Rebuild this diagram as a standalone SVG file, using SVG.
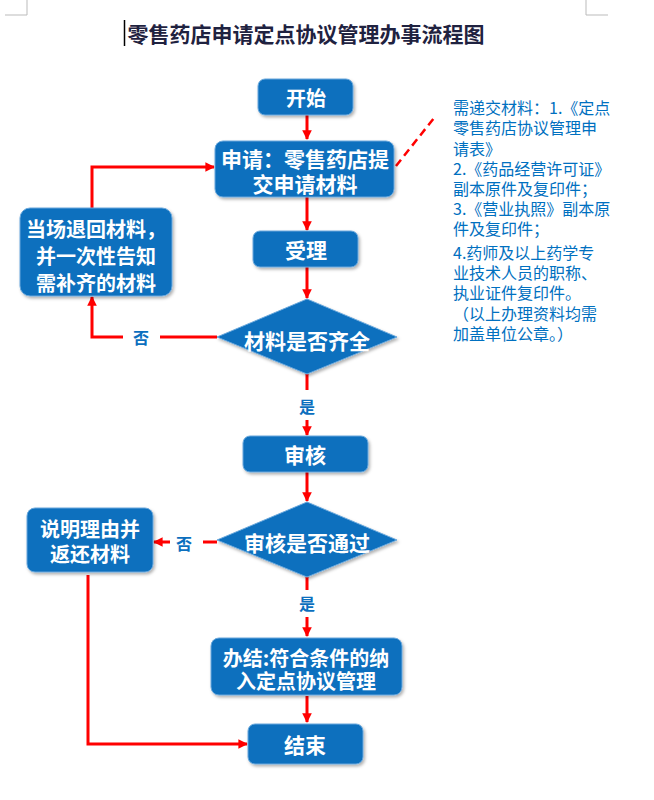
<svg xmlns="http://www.w3.org/2000/svg" width="654" height="800" viewBox="0 0 654 800">
<style>
.box{fill:#0B6FBE;stroke:#6AA8DC;stroke-width:1;filter:url(#sh)}
.bt{font-family:"Noto Sans CJK SC","Noto Sans",sans-serif;font-weight:bold;fill:#fff;text-anchor:middle;dominant-baseline:central}
.lbl{font-family:"Noto Sans CJK SC","Noto Sans",sans-serif;font-weight:bold;font-size:16px;fill:#0B6FBE;text-anchor:middle;dominant-baseline:central}
.c{fill:none;stroke:#FF0000;stroke-width:3}
.note{font-family:"Noto Sans CJK SC","Noto Sans",sans-serif;font-size:16px;fill:#0070C0;dominant-baseline:central}
</style>
<defs>
<filter id="sh" x="-10%" y="-10%" width="130%" height="140%">
<feDropShadow dx="1.5" dy="2" stdDeviation="1.5" flood-color="#000" flood-opacity="0.3"/>
</filter>
<marker id="ar" viewBox="0 0 10 10" refX="9" refY="5" markerWidth="3.2" markerHeight="3.2" orient="auto" markerUnits="strokeWidth">
<path d="M0,0 L10,5 L0,10 z" fill="#FF0000"/>
</marker>
</defs>
<rect width="654" height="800" fill="#fff"/>
<g id="page-marks" stroke="#BBBBBB" stroke-width="1" fill="none">
<path d="M27,0 V15 H5"/>
<path d="M586,0 V15 H608"/>
</g>
<g id="title">
<line x1="124.5" y1="20" x2="124.5" y2="46" stroke="#000" stroke-width="1.5"/>
<text x="306" y="33" font-family="'Noto Sans CJK SC',sans-serif" font-weight="bold" font-size="21" fill="#1F2240" text-anchor="middle" dominant-baseline="central">零售药店申请定点协议管理办事流程图</text>
</g>
<g id="connectors">
<path class="c" d="M307,115 V139" marker-end="url(#ar)"/>
<path class="c" d="M307,197 V230" marker-end="url(#ar)"/>
<path class="c" d="M307,267 V298" marker-end="url(#ar)"/>
<path class="c" d="M217,337 H160 M123,337 H92 V297" marker-end="url(#ar)"/>
<path class="c" d="M92,208 V167 H214" marker-end="url(#ar)"/>
<path class="c" d="M307,374 V390 M307,420 V435" marker-end="url(#ar)"/>
<path class="c" d="M307,472 V501" marker-end="url(#ar)"/>
<path class="c" d="M217,542 H203 M170,542 H154" marker-end="url(#ar)"/>
<path class="c" d="M307,577 V590 M307,617 V636" marker-end="url(#ar)"/>
<path class="c" d="M307,696 V722" marker-end="url(#ar)"/>
<path class="c" d="M88,575 V744 H247" marker-end="url(#ar)"/>
<path d="M396,166 L434,118" fill="none" stroke="#FF0000" stroke-width="2.5" stroke-dasharray="8,5"/>
<text class="lbl" x="141" y="337">否</text>
<text class="lbl" x="307" y="406">是</text>
<text class="lbl" x="184" y="543">否</text>
<text class="lbl" x="307" y="603">是</text>
</g>
<g id="n-start">
<rect class="box" x="258" y="79" width="95" height="36" rx="7"/>
<text class="bt" x="306" y="97" font-size="20">开始</text>
</g>
<g id="n-apply">
<rect class="box" x="215" y="141" width="179" height="56" rx="8"/>
<text class="bt" x="305" y="158" font-size="21">申请：零售药店提</text>
<text class="bt" x="305" y="183" font-size="21">交申请材料</text>
</g>
<g id="n-accept">
<rect class="box" x="253" y="231" width="105" height="36" rx="7"/>
<text class="bt" x="306" y="249" font-size="21">受理</text>
</g>
<g id="n-check1">
<polygon class="box" points="307,299 397,337 307,374 217,337"/>
<text class="bt" x="307" y="340" font-size="21">材料是否齐全</text>
</g>
<g id="n-return">
<rect class="box" x="20" y="208" width="152" height="88" rx="10"/>
<text class="bt" x="96" y="228" font-size="20">当场退回材料，</text>
<text class="bt" x="96" y="255" font-size="20">并一次性告知</text>
<text class="bt" x="96" y="282" font-size="20">需补齐的材料</text>
</g>
<g id="n-review">
<rect class="box" x="243" y="436" width="125" height="36" rx="7"/>
<text class="bt" x="305" y="454" font-size="21">审核</text>
</g>
<g id="n-check2">
<polygon class="box" points="307,502 397,540 307,577 217,540"/>
<text class="bt" x="307" y="542" font-size="21">审核是否通过</text>
</g>
<g id="n-explain">
<rect class="box" x="27" y="508" width="126" height="64" rx="8"/>
<text class="bt" x="90" y="528" font-size="20">说明理由并</text>
<text class="bt" x="90" y="553" font-size="20">返还材料</text>
</g>
<g id="n-finish">
<rect class="box" x="211" y="638" width="191" height="57" rx="8"/>
<text class="bt" x="306" y="657" font-size="20">办结:符合条件的纳</text>
<text class="bt" x="306" y="680" font-size="20">入定点协议管理</text>
</g>
<g id="n-end">
<rect class="box" x="248" y="724" width="115" height="40" rx="7"/>
<text class="bt" x="305" y="744" font-size="21">结束</text>
</g>
<g id="note">
<text class="note" x="453" y="107">需递交材料：1.《定点</text>
<text class="note" x="453" y="127">零售药店协议管理申</text>
<text class="note" x="453" y="148">请表》</text>
<text class="note" x="453" y="168">2.《药品经营许可证》</text>
<text class="note" x="453" y="188">副本原件及复印件；</text>
<text class="note" x="453" y="208">3.《营业执照》副本原</text>
<text class="note" x="453" y="228">件及复印件；</text>
<text class="note" x="453" y="252">4.药师及以上药学专</text>
<text class="note" x="453" y="272">业技术人员的职称、</text>
<text class="note" x="453" y="292">执业证件复印件。</text>
<text class="note" x="453" y="313">（以上办理资料均需</text>
<text class="note" x="453" y="333">加盖单位公章。）</text>
</g>
</svg>
